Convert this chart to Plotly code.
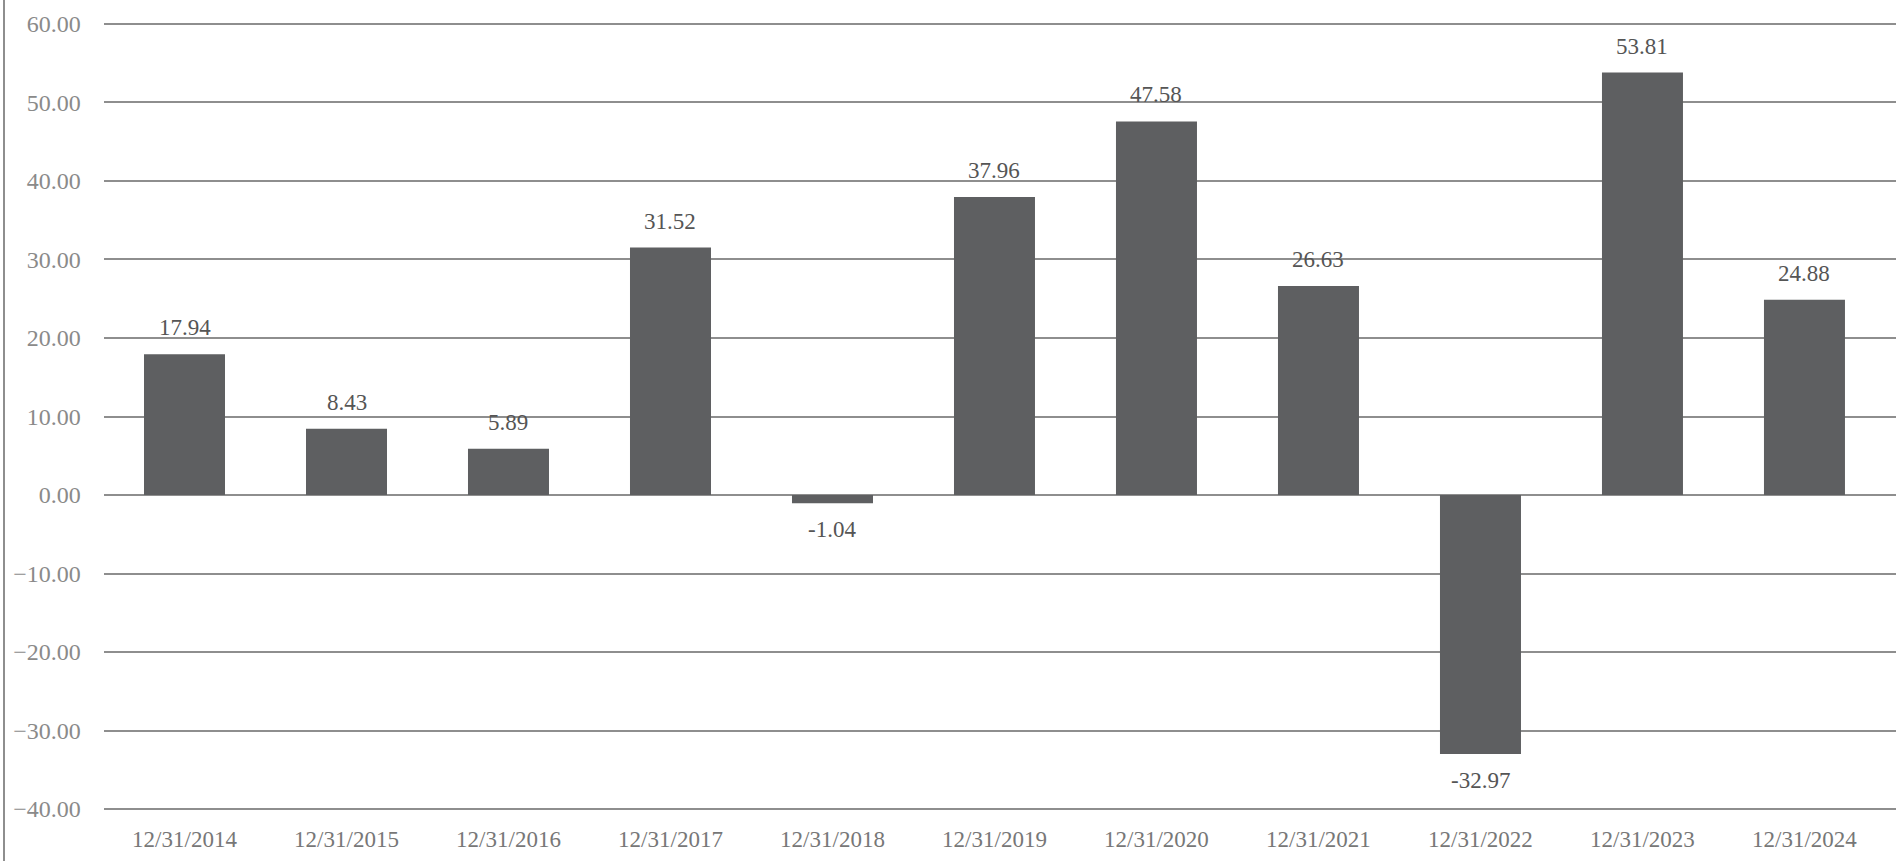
import plotly.graph_objects as go

categories = ["12/31/2014", "12/31/2015", "12/31/2016", "12/31/2017", "12/31/2018",
              "12/31/2019", "12/31/2020", "12/31/2021", "12/31/2022", "12/31/2023",
              "12/31/2024"]
values = [17.94, 8.43, 5.89, 31.52, -1.04, 37.96, 47.58, 26.63, -32.97, 53.81, 24.88]

W, H = 1896, 861
ML, MR, MT, MB = 4, 0, 20, 48
FONT = "Liberation Serif"
BAR = "#5e5f61"
GRID = "#8e8e8e"

fig = go.Figure()
fig.add_trace(go.Bar(
    x=categories, y=values, marker=dict(color=BAR, line=dict(width=0)),
    hoverinfo="x+y", showlegend=False,
))

annotations = []
for c, v in zip(categories, values):
    pos = v >= 0
    annotations.append(dict(
        x=c, y=v, xref="x", yref="y", text=f"{v:.2f}", showarrow=False,
        yanchor="bottom" if pos else "top", yshift=12 if pos else -12,
        font=dict(family=FONT, size=23, color="#555555"),
    ))

plot_w = W - ML - MR
plot_h = H - MT - MB
x_start = (103.5 - ML) / plot_w

fig.update_layout(
    width=W, height=H,
    margin=dict(l=ML, r=MR, t=MT, b=MB, pad=0),
    paper_bgcolor="white", plot_bgcolor="white",
    font=dict(family=FONT),
    bargap=0.5,
    annotations=annotations,
    xaxis=dict(
        domain=[x_start, 1], type="category", range=[-0.5, 10.565],
        showgrid=False, zeroline=False, showline=False,
        ticks="outside", ticklen=5, tickcolor="rgba(0,0,0,0)",
        tickfont=dict(family=FONT, size=23, color="#777777"),
    ),
    yaxis=dict(
        range=[-40.5, 60.5], dtick=10, tick0=0, tickformat=".2f",
        showgrid=True, gridcolor=GRID, gridwidth=2,
        zeroline=False, showline=False,
        ticks="outside", ticklen=17, tickcolor="rgba(0,0,0,0)",
        tickfont=dict(family=FONT, size=24, color="#8a8a8a"),
    ),
    yaxis2=dict(
        overlaying="y", anchor="free", position=0, side="left",
        range=[0, plot_h / 37.86], tick0=0.734, dtick=1,
        showline=True, linecolor=GRID, linewidth=2,
        ticks="outside", ticklen=4, tickwidth=2, tickcolor=GRID,
        showticklabels=False, showgrid=False, zeroline=False,
    ),
    shapes=[dict(type="line", xref="paper", yref="paper", x0=0, x1=0,
                 y0=-MB / plot_h, y1=1 + MT / plot_h,
                 line=dict(color=GRID, width=2))],
)

fig.write_html("out.html", config={"displayModeBar": False},
               post_script="document.body.style.margin='0';")
